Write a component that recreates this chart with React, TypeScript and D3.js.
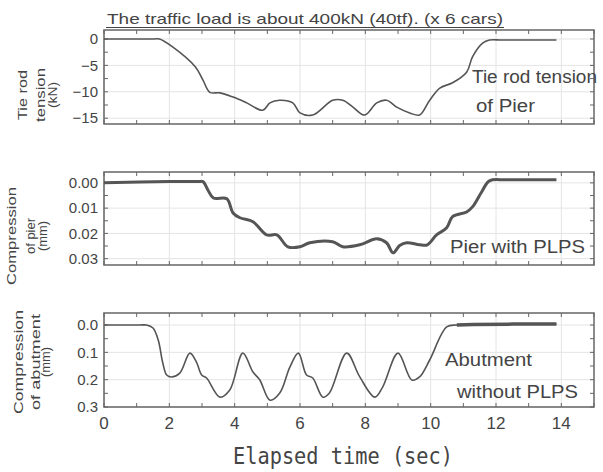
import React from 'react';
import * as d3 from 'd3';

// elapsed time axis (sec)
const timeTicks = [0, 2, 4, 6, 8, 10, 12, 14];
const timeMinor = d3.range(0, 16, 1);

// tie rod tension of pier (kN)
const tensionT = [0, 1.5, 1.7, 2.1, 2.8, 3.03, 3.24, 3.55, 3.95, 4.37, 4.86, 5.08, 5.38, 5.78, 6.0, 6.39, 7.0, 7.31, 7.62, 7.98, 8.35, 8.65, 8.96, 9.36, 9.66, 9.97, 10.28, 10.67, 11.1, 11.28, 11.59, 11.8, 12.2, 13.85];
const tensionV = [0, 0, 0, -1.5, -5.3, -7.8, -10.1, -10.2, -11.0, -12.1, -13.5, -12.1, -11.6, -12.1, -14.0, -14.4, -11.6, -11.6, -12.9, -14.4, -12.1, -11.6, -12.9, -14.0, -14.4, -11.6, -9.3, -8.3, -6.3, -3.4, -0.8, -0.2, -0.2, -0.2];
const tensionTicks = [0, -5, -10, -15];

// compression of pier (mm)
const pierT = [0, 2.0, 2.9, 3.03, 3.18, 3.35, 3.76, 3.95, 4.16, 4.56, 4.98, 5.29, 5.63, 6.0, 6.3, 7.0, 7.31, 7.83, 8.35, 8.65, 8.85, 9.05, 9.27, 9.66, 9.9, 10.18, 10.49, 10.67, 11.1, 11.28, 11.56, 11.8, 12.3, 13.85];
const pierV = [0, -0.0005, -0.0005, -0.0005, 0.0028, 0.006, 0.0063, 0.0119, 0.0138, 0.0154, 0.0206, 0.0206, 0.0253, 0.0253, 0.0237, 0.0233, 0.0253, 0.0245, 0.0221, 0.0237, 0.0277, 0.0248, 0.0237, 0.0245, 0.0245, 0.0206, 0.0178, 0.0134, 0.0115, 0.0095, 0.0036, -0.0008, -0.0012, -0.0012];
const pierTicks = [0, 0.01, 0.02, 0.03];

// compression of abutment (mm)
const abutT = [0, 1.1, 1.3, 1.5, 1.66, 1.8, 1.92, 2.07, 2.32, 2.63, 2.83, 2.99, 3.14, 3.55, 3.85, 4.25, 4.56, 4.77, 5.08, 5.38, 5.69, 5.95, 6.2, 6.39, 6.7, 6.9, 7.43, 7.83, 8.29, 8.53, 9.0, 9.42, 9.66, 9.97, 10.49, 10.8, 11.3, 13.85];
const abutV = [0, 0, 0, 0.011, 0.055, 0.139, 0.183, 0.19, 0.176, 0.103, 0.136, 0.183, 0.194, 0.264, 0.238, 0.103, 0.172, 0.201, 0.275, 0.249, 0.154, 0.103, 0.183, 0.194, 0.264, 0.249, 0.103, 0.19, 0.264, 0.227, 0.103, 0.201, 0.19, 0.128, 0.007, 0, -0.002, -0.004];
const abutTicks = [0, 0.1, 0.2, 0.3];

const ink = '#444';
const narrow = '"Liberation Sans Narrow", "Liberation Sans", Arial, sans-serif';

const x = d3.scaleLinear().domain([0, 15]).range([104, 594]);

const panels = [
  {
    key: 'tension',
    t: tensionT, v: tensionV, ticks: tensionTicks, minor: d3.range(0, -15.1, -2.5),
    y: d3.scaleLinear().domain([1.7, -16.1]).range([30, 124]),
    fmt: d3.format('d'), width: 1.6,
    ylab: [{ s: 'Tie rod', x: 27, len: 50 }, { s: 'tension', x: 45, len: 54 }, { s: '(kN)', x: 57, len: 26 }], ylabY: 95,
    notes: [{ s: 'Tie rod tension', x: 472, y: 83, len: 125 }, { s: 'of Pier', x: 476, y: 112, len: 59 }],
  },
  {
    key: 'pier',
    t: pierT, v: pierV, ticks: pierTicks, minor: d3.range(0, 0.031, 0.005),
    y: d3.scaleLinear().domain([-0.0043, 0.0325]).range([172, 265]),
    fmt: d3.format('.2f'), width: 3,
    ylab: [{ s: 'Compression', x: 16, len: 98 }, { s: 'of pier', x: 35, len: 36 }, { s: '(mm)', x: 47, len: 30 }], ylabY: 236,
    notes: [{ s: 'Pier with PLPS', x: 450, y: 253, len: 135 }],
  },
  {
    key: 'abut',
    t: abutT, v: abutV, ticks: abutTicks, minor: d3.range(0, 0.301, 0.05),
    y: d3.scaleLinear().domain([-0.044, 0.3]).range([313, 407]),
    fmt: d3.format('.1f'), width: 1.6,
    ylab: [{ s: 'Compression', x: 23, len: 104 }, { s: 'of abutment', x: 40, len: 96 }, { s: '(mm)', x: 50, len: 30 }], ylabY: 362,
    notes: [{ s: 'Abutment', x: 445, y: 366, len: 87 }, { s: 'without PLPS', x: 457, y: 398, len: 121 }],
  },
];

function Panel({ p }: { p: any }) {
  const [y0, y1] = p.y.range();
  const [x0, x1] = x.range();
  const pts = p.t.map((t: number, i: number) => [t, p.v[i]]);
  const line = d3.line<number[]>().x(d => x(d[0])).y(d => p.y(d[1])).curve(d3.curveCatmullRom.alpha(0.5));
  const tail = p.key === 'abut' ? pts.filter((d: number[]) => d[0] >= 10.8) : null;
  return (
    <g>
      {timeTicks.map(t => <line key={'gx' + t} x1={x(t)} x2={x(t)} y1={y0} y2={y1} stroke="#e4e4e4" />)}
      {p.ticks.map((v: number) => <line key={'gy' + v} x1={x0} x2={x1} y1={p.y(v)} y2={p.y(v)} stroke="#e4e4e4" />)}
      {timeMinor.map(t => (
        <g key={'tx' + t}>
          <line x1={x(t)} x2={x(t)} y1={y0} y2={y0 + 4} stroke="#666" />
          <line x1={x(t)} x2={x(t)} y1={y1} y2={y1 - 4} stroke="#666" />
        </g>
      ))}
      {p.minor.map((v: number) => (
        <g key={'ty' + v}>
          <line x1={x0} x2={x0 + 4} y1={p.y(v)} y2={p.y(v)} stroke="#666" />
          <line x1={x1} x2={x1 - 4} y1={p.y(v)} y2={p.y(v)} stroke="#666" />
        </g>
      ))}
      <rect x={x0} y={y0} width={x1 - x0} height={y1 - y0} fill="none" stroke="#666" strokeWidth={1.5} />
      <path d={line(pts) || ''} fill="none" stroke="#555" strokeWidth={p.width} strokeLinejoin="round" />
      {tail && <path d={line(tail) || ''} fill="none" stroke="#555" strokeWidth={3.5} />}
      {p.ticks.map((v: number) => (
        <text key={'ly' + v} x={x0 - 6} y={p.y(v)} dy="0.35em" textAnchor="end" fontSize={15} fill={ink} fontFamily={narrow}>
          {p.fmt(v)}
        </text>
      ))}
      {p.ylab.map((l: any) => (
        <text key={l.s} transform={`translate(${l.x},${p.ylabY}) rotate(-90)`} textAnchor="middle" fontSize={13} fill={ink}
          fontFamily={narrow} textLength={l.len} lengthAdjust="spacingAndGlyphs">{l.s}</text>
      ))}
      {p.notes.map((n: any) => (
        <text key={n.s} x={n.x} y={n.y} fontSize={18} fill={ink} fontFamily={narrow}
          textLength={n.len} lengthAdjust="spacingAndGlyphs">{n.s}</text>
      ))}
    </g>
  );
}

export default function App() {
  return (
    <svg width={603} height={472} style={{ position: 'absolute', left: 0, top: 0, background: '#fff' }}>
      <text x={107} y={24} fontSize={15} fill={ink} fontFamily={narrow} textLength={396} lengthAdjust="spacingAndGlyphs">
        The traffic load is about 400kN (40tf). (x 6 cars)
      </text>
      <line x1={106} x2={504} y1={27.5} y2={27.5} stroke={ink} strokeWidth={1.2} />
      {panels.map(p => <Panel key={p.key} p={p} />)}
      {timeTicks.map(t => (
        <text key={'lx' + t} x={x(t)} y={429} textAnchor="middle" fontSize={17} fill={ink} fontFamily={narrow}>{t}</text>
      ))}
      <text x={233} y={464} fontSize={23} fill={ink} fontFamily='"DejaVu Sans Mono", monospace'
        textLength={220} lengthAdjust="spacingAndGlyphs">Elapsed time (sec)</text>
    </svg>
  );
}
